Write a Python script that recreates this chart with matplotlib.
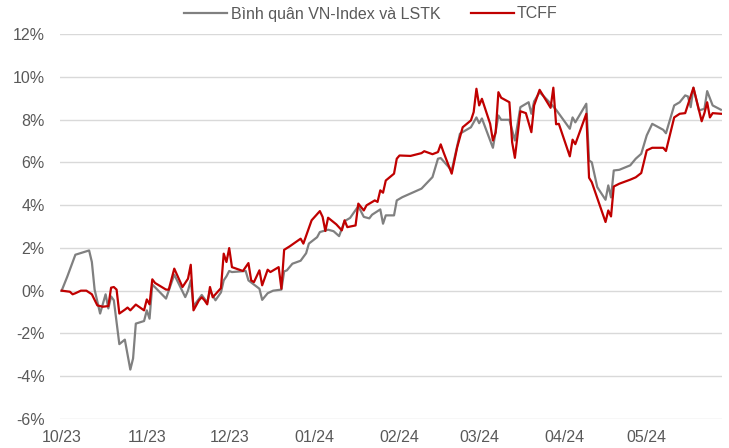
import matplotlib
matplotlib.use("Agg")
import matplotlib.pyplot as plt
import matplotlib.dates as mdates
import pandas as pd

plt.rcParams['font.family'] = ['Liberation Sans', 'DejaVu Sans']

# Bình quân VN-Index và LSTK (grey), % return
grey_dates = ["2023-10-01", "2023-10-03", "2023-10-06", "2023-10-11", "2023-10-12", "2023-10-13",
              "2023-10-15", "2023-10-17", "2023-10-18", "2023-10-19", "2023-10-20", "2023-10-22",
              "2023-10-24", "2023-10-26", "2023-10-27", "2023-10-28", "2023-10-31", "2023-11-01",
              "2023-11-02", "2023-11-03", "2023-11-08", "2023-11-11", "2023-11-15", "2023-11-16",
              "2023-11-17", "2023-11-18", "2023-11-21", "2023-11-23", "2023-11-24", "2023-11-26",
              "2023-11-28", "2023-11-29", "2023-11-30", "2023-12-01", "2023-12-02", "2023-12-07",
              "2023-12-08", "2023-12-12", "2023-12-13", "2023-12-15", "2023-12-17", "2023-12-20",
              "2023-12-21", "2023-12-22", "2023-12-24", "2023-12-27", "2023-12-29", "2023-12-30",
              "2024-01-02", "2024-01-03", "2024-01-06", "2024-01-08", "2024-01-10", "2024-01-12",
              "2024-01-14", "2024-01-17", "2024-01-19", "2024-01-21", "2024-01-22", "2024-01-25",
              "2024-01-26", "2024-01-27", "2024-01-30", "2024-01-31", "2024-02-02", "2024-02-09",
              "2024-02-13", "2024-02-15", "2024-02-16", "2024-02-20", "2024-02-23", "2024-02-27",
              "2024-02-29", "2024-03-01", "2024-03-02", "2024-03-06", "2024-03-08", "2024-03-09",
              "2024-03-12", "2024-03-14", "2024-03-16", "2024-03-19", "2024-03-20", "2024-03-21",
              "2024-03-23", "2024-03-26", "2024-03-29", "2024-04-03", "2024-04-04", "2024-04-05",
              "2024-04-09", "2024-04-10", "2024-04-11", "2024-04-13", "2024-04-16", "2024-04-17",
              "2024-04-18", "2024-04-19", "2024-04-21", "2024-04-25", "2024-04-27", "2024-04-29",
              "2024-05-01", "2024-05-03", "2024-05-07", "2024-05-08", "2024-05-11", "2024-05-13",
              "2024-05-15", "2024-05-16", "2024-05-17", "2024-05-18", "2024-05-20", "2024-05-22",
              "2024-05-23", "2024-05-25", "2024-05-28"]
grey_values = [0.0, 0.64, 1.68, 1.88, 1.34, 0.05,
               -1.07, -0.17, -0.83, -0.27, -0.45, -2.5,
               -2.29, -3.69, -3.17, -1.54, -1.42, -0.92,
               -1.31, 0.29, -0.37, 0.75, -0.3, 0.0,
               0.48, -0.73, -0.2, -0.55, 0.0, -0.45,
               -0.08, 0.48, 0.67, 0.92, 0.87, 0.92,
               0.48, 0.09, -0.43, -0.12, 0.0, 0.05,
               0.9, 0.95, 1.26, 1.4, 1.75, 2.2,
               2.5, 2.74, 2.85, 2.78, 2.55, 3.25,
               3.4, 3.95, 3.45, 3.38, 3.55, 3.8,
               3.13, 3.52, 3.52, 4.22, 4.37, 4.77,
               5.31, 6.17, 6.2, 5.62, 7.34, 7.64,
               8.1, 7.83, 8.05, 6.68, 8.19, 7.99,
               7.99, 7.02, 8.58, 8.81, 8.27, 8.85,
               9.28, 8.89, 8.46, 7.57, 8.1, 7.87,
               8.74, 6.09, 6.0, 4.84, 4.25, 4.92,
               4.36, 5.62, 5.65, 5.86, 6.17, 6.4,
               7.26, 7.8, 7.52, 7.36, 8.66, 8.81,
               9.13, 9.08, 8.58, 9.49, 8.43, 8.5,
               9.33, 8.66, 8.46]

# TCFF (red), % return
red_dates = ["2023-10-01", "2023-10-04", "2023-10-05", "2023-10-06", "2023-10-08", "2023-10-10",
             "2023-10-12", "2023-10-14", "2023-10-16", "2023-10-18", "2023-10-19", "2023-10-20",
             "2023-10-21", "2023-10-22", "2023-10-24", "2023-10-25", "2023-10-26", "2023-10-28",
             "2023-10-31", "2023-11-01", "2023-11-02", "2023-11-03", "2023-11-04", "2023-11-08",
             "2023-11-09", "2023-11-11", "2023-11-14", "2023-11-16", "2023-11-17", "2023-11-18",
             "2023-11-20", "2023-11-21", "2023-11-22", "2023-11-23", "2023-11-24", "2023-11-25",
             "2023-11-28", "2023-11-29", "2023-11-30", "2023-12-01", "2023-12-02", "2023-12-06",
             "2023-12-08", "2023-12-09", "2023-12-10", "2023-12-12", "2023-12-13", "2023-12-15",
             "2023-12-16", "2023-12-19", "2023-12-20", "2023-12-21", "2023-12-23", "2023-12-27",
             "2023-12-28", "2023-12-31", "2024-01-03", "2024-01-04", "2024-01-05", "2024-01-06",
             "2024-01-09", "2024-01-11", "2024-01-12", "2024-01-13", "2024-01-16", "2024-01-17",
             "2024-01-19", "2024-01-20", "2024-01-23", "2024-01-24", "2024-01-25", "2024-01-26",
             "2024-01-27", "2024-01-30", "2024-01-31", "2024-02-01", "2024-02-05", "2024-02-09",
             "2024-02-10", "2024-02-13", "2024-02-15", "2024-02-16", "2024-02-17", "2024-02-20",
             "2024-02-22", "2024-02-24", "2024-02-27", "2024-02-28", "2024-02-29", "2024-03-01",
             "2024-03-02", "2024-03-05", "2024-03-06", "2024-03-07", "2024-03-08", "2024-03-09",
             "2024-03-12", "2024-03-13", "2024-03-14", "2024-03-16", "2024-03-18", "2024-03-20",
             "2024-03-21", "2024-03-23", "2024-03-27", "2024-03-28", "2024-03-29", "2024-03-30",
             "2024-04-03", "2024-04-04", "2024-04-05", "2024-04-09", "2024-04-10", "2024-04-11",
             "2024-04-16", "2024-04-17", "2024-04-18", "2024-04-19", "2024-04-21", "2024-04-25",
             "2024-04-27", "2024-04-29", "2024-05-01", "2024-05-03", "2024-05-07", "2024-05-08",
             "2024-05-11", "2024-05-13", "2024-05-15", "2024-05-18", "2024-05-21", "2024-05-22",
             "2024-05-23", "2024-05-24", "2024-05-25", "2024-05-28"]
red_values = [0.0, -0.05, -0.17, -0.12, 0.0, 0.0,
              -0.17, -0.69, -0.75, -0.72, 0.14, 0.17,
              0.05, -1.07, -0.89, -0.79, -0.92, -0.65,
              -0.92, -0.41, -0.64, 0.53, 0.36, 0.05,
              0.05, 1.03, 0.17, 0.56, 1.21, -0.92,
              -0.45, -0.31, -0.45, -0.64, 0.17, -0.31,
              0.12, 1.73, 1.34, 1.99, 1.1, 0.92,
              1.29, 0.48, 0.4, 0.95, 0.25, 0.98,
              0.87, 1.1, 0.09, 1.91, 2.07, 2.43,
              2.2, 3.29, 3.72, 3.45, 2.79, 3.41,
              3.1, 2.82, 3.29, 2.97, 3.05, 4.07,
              3.75, 3.99, 4.22, 4.15, 4.69, 4.58,
              5.15, 5.47, 6.17, 6.32, 6.3, 6.43,
              6.52, 6.38, 6.48, 6.84, 6.48, 5.47,
              6.71, 7.64, 7.96, 8.35, 9.44, 8.66,
              8.97, 7.8, 7.02, 7.4, 9.28, 9.02,
              8.81, 6.94, 6.21, 8.39, 8.3, 7.41,
              8.66, 9.39, 8.55, 9.49, 7.78, 7.8,
              6.28, 7.06, 6.85, 8.27, 5.28, 5.07,
              3.21, 3.75, 3.47, 4.87, 5.0, 5.19,
              5.3, 5.5, 6.56, 6.68, 6.68, 6.53,
              8.1, 8.27, 8.3, 9.49, 7.92, 8.3,
              8.81, 8.1, 8.3, 8.27]

series_names = ["Bình quân VN-Index và LSTK", "TCFF"]
month_ticks = ["2023-10-01", "2023-11-01", "2023-12-01", "2024-01-01",
               "2024-02-01", "2024-03-01", "2024-04-01", "2024-05-01"]
month_labels = ["10/23", "11/23", "12/23", "01/24", "02/24", "03/24", "04/24", "05/24"]
y_ticks = [-6, -4, -2, 0, 2, 4, 6, 8, 10, 12]

fig = plt.figure(figsize=(7.29, 4.48), dpi=100)
ax = fig.add_axes([60 / 729, 1 - 419 / 448, (722 - 60) / 729, (419 - 34) / 448])

gd = pd.to_datetime(grey_dates)
rd = pd.to_datetime(red_dates)
ax.plot(gd, grey_values, color="#808080", lw=1.6, label=series_names[0], zorder=3)
ax.plot(rd, red_values, color="#C00000", lw=1.6, label=series_names[1], zorder=4)

ax.set_ylim(-6, 12)
ax.set_yticks(y_ticks)
ax.set_yticklabels([f"{v}%" for v in y_ticks])
start = pd.Timestamp("2023-10-01")
ax.set_xlim(mdates.date2num(start) - 0.6, mdates.date2num(pd.Timestamp("2024-05-28")) + 0.4)
ax.set_xticks(pd.to_datetime(month_ticks))
ax.set_xticklabels(month_labels)

ax.grid(axis="y", color="#D9D9D9", lw=1.0, zorder=0)
ax.grid(axis="x", visible=False)
for s in ax.spines.values():
    s.set_visible(False)
ax.tick_params(axis="both", length=0, labelsize=11.5, labelcolor="#595959")
ax.tick_params(axis="y", pad=11)
ax.tick_params(axis="x", pad=8)

leg = fig.legend(loc="center", bbox_to_anchor=(371 / 729, 1 - 14 / 448), ncol=2, frameon=False,
                 fontsize=11.5, handlelength=2.7, handletextpad=0.2, columnspacing=1.9)
for t in leg.get_texts():
    t.set_color("#595959")

fig.savefig("out.png", dpi=100)
